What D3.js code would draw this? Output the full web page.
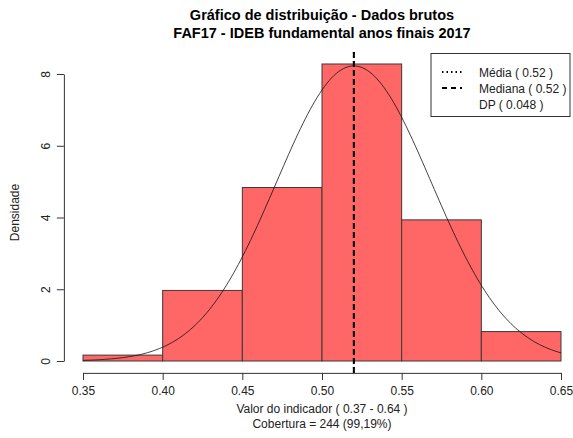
<!DOCTYPE html>
<html><head><meta charset="utf-8">
<script src="https://cdn.jsdelivr.net/npm/d3@7"></script>
<style>body{margin:0;background:#fff}svg{display:block;font-family:"Liberation Sans",Arial,sans-serif}</style>
</head><body>
<svg id="c" width="573" height="438"></svg>
<script>
const binEdges = [0.35, 0.40, 0.45, 0.50, 0.55, 0.60, 0.65];
const densities = [0.164, 1.967, 4.836, 8.279, 3.934, 0.820];
const xTicks = [0.35, 0.40, 0.45, 0.50, 0.55, 0.60, 0.65];
const yTicks = [0, 2, 4, 6, 8];
const meanVal = 0.52, medianVal = 0.52, sdVal = 0.0485;
const legendLabels = ["Média ( 0.52 )", "Mediana ( 0.52 )", "DP ( 0.048 )"];
const titleLines = ["Gráfico de distribuição - Dados brutos", "FAF17 - IDEB fundamental anos finais 2017"];
const xLabelLines = ["Valor do indicador ( 0.37 - 0.64 )", "Cobertura = 244 (99,19%)"];

const svg = d3.select("#c");
const x = d3.scaleLinear().domain([0.35, 0.65]).range([83, 561]);
const y = d3.scaleLinear().domain([0, 8]).range([361, 74]);
const plotTop = y(8.279 * 1.04), plotBottom = y(-8.279 * 0.04);

// bars
const bins = densities.map((d, i) => ({x0: binEdges[i], x1: binEdges[i + 1], d}));
svg.append("g").selectAll("rect").data(bins).join("rect")
  .attr("x", b => x(b.x0)).attr("width", b => x(b.x1) - x(b.x0))
  .attr("y", b => y(b.d)).attr("height", b => y(0) - y(b.d))
  .attr("fill", "#ff6666").attr("stroke", "#3a3a3a").attr("stroke-width", 1);

// normal curve
const npts = d3.range(0, 201).map(i => 0.35 + i * 0.3 / 200);
const dens = v => Math.exp(-0.5 * ((v - meanVal) / sdVal) ** 2) / (sdVal * Math.sqrt(2 * Math.PI));
svg.append("path").datum(npts)
  .attr("d", d3.line().x(v => x(v)).y(v => y(dens(v))))
  .attr("fill", "none").attr("stroke", "#111").attr("stroke-width", 0.8);

// mean & median lines
svg.append("line").attr("x1", x(meanVal)).attr("x2", x(meanVal))
  .attr("y1", plotTop).attr("y2", plotBottom)
  .attr("stroke", "#000").attr("stroke-width", 2).attr("stroke-dasharray", "1.5,3");
svg.append("line").attr("x1", x(medianVal)).attr("x2", x(medianVal))
  .attr("y1", plotTop).attr("y2", plotBottom)
  .attr("stroke", "#000").attr("stroke-width", 2).attr("stroke-dasharray", "5,4");

// axes
const xa = svg.append("g").attr("transform", `translate(0,${plotBottom})`)
  .call(d3.axisBottom(x).tickValues(xTicks).tickFormat(d3.format(".2f")).tickSize(7).tickSizeOuter(0).tickPadding(7));
const ya = svg.append("g").attr("transform", `translate(${x(0.35 - 0.012)},0)`)
  .call(d3.axisLeft(y).tickValues(yTicks).tickSize(7).tickSizeOuter(0));
[xa, ya].forEach(a => {
  a.select(".domain").attr("stroke", "#333");
  a.selectAll(".tick line").attr("stroke", "#333");
  a.selectAll("text").attr("font-size", 12).attr("fill", "#222").attr("font-family", "Liberation Sans, Arial, sans-serif");
});
ya.selectAll(".tick text").attr("text-anchor", "middle").attr("x", null).attr("dy", null)
  .attr("transform", "translate(-17,0) rotate(-90)").attr("dominant-baseline", "middle");

// titles
svg.append("g").selectAll("text").data(titleLines).join("text")
  .attr("x", x(0.5)).attr("y", (d, i) => 20 + i * 18).attr("text-anchor", "middle")
  .attr("font-size", 14.5).attr("font-weight", "bold").attr("fill", "#000").text(d => d);
svg.append("g").selectAll("text").data(xLabelLines).join("text")
  .attr("x", x(0.5)).attr("y", (d, i) => 413 + i * 15).attr("text-anchor", "middle")
  .attr("font-size", 12).attr("fill", "#222").text(d => d);
svg.append("text").attr("transform", `translate(19,${(plotTop + plotBottom) / 2}) rotate(-90)`)
  .attr("text-anchor", "middle").attr("font-size", 12).attr("fill", "#222").text("Densidade");

// legend
const lg = svg.append("g");
lg.append("rect").attr("x", 431).attr("y", 53.5).attr("width", 139).attr("height", 63)
  .attr("fill", "#fff").attr("stroke", "#333").attr("stroke-width", 1);
const dashes = ["1.5,3", "5,4", null];
legendLabels.forEach((t, i) => {
  const cy = 72 + i * 16;
  if (dashes[i]) lg.append("line").attr("x1", 442).attr("x2", 462).attr("y1", cy).attr("y2", cy)
    .attr("stroke", "#000").attr("stroke-width", 2).attr("stroke-dasharray", dashes[i]);
  lg.append("text").attr("x", 479).attr("y", cy + 4.5).attr("font-size", 12).attr("fill", "#222").text(t);
});
</script>
</body></html>
